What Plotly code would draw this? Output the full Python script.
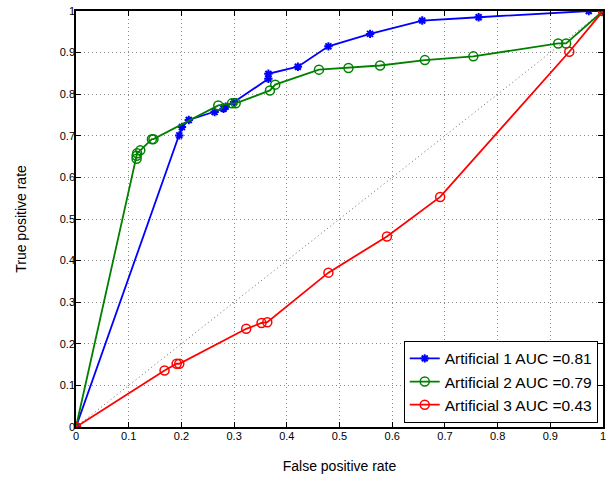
import plotly.graph_objects as go

a1_fpr = [0, 0.196, 0.201, 0.214, 0.263, 0.280, 0.284, 0.300, 0.365, 0.365, 0.421, 0.479, 0.558, 0.657, 0.764, 0.973, 1.0]
a1_tpr = [0, 0.701, 0.721, 0.738, 0.757, 0.765, 0.770, 0.781, 0.837, 0.849, 0.866, 0.915, 0.945, 0.977, 0.985, 1.0, 1.0]

a2_fpr = [0, 0.115, 0.115, 0.116, 0.122, 0.144, 0.147, 0.270, 0.296, 0.303, 0.368, 0.378, 0.461, 0.517, 0.577, 0.662, 0.754, 0.915, 0.930, 1.0]
a2_tpr = [0, 0.645, 0.652, 0.658, 0.665, 0.692, 0.692, 0.773, 0.778, 0.778, 0.809, 0.823, 0.859, 0.863, 0.869, 0.882, 0.891, 0.922, 0.922, 1.0]

a3_fpr = [0, 0.168, 0.191, 0.196, 0.323, 0.352, 0.363, 0.479, 0.590, 0.691, 0.936, 1.0]
a3_tpr = [0, 0.136, 0.152, 0.152, 0.236, 0.250, 0.252, 0.371, 0.458, 0.553, 0.902, 1.0]

names = ["Artificial 1 AUC =0.81", "Artificial 2 AUC =0.79", "Artificial 3 AUC =0.43"]
ticks = [0, 0.1, 0.2, 0.3, 0.4, 0.5, 0.6, 0.7, 0.8, 0.9, 1]
tick_text = ["0", "0.1", "0.2", "0.3", "0.4", "0.5", "0.6", "0.7", "0.8", "0.9", "1"]

FONT = "Liberation Sans, Arial, sans-serif"

fig = go.Figure()
fig.add_trace(go.Scatter(x=[0, 1], y=[0, 1], mode="lines",
                         line=dict(color="#666666", width=1, dash="1px,3px"),
                         showlegend=False, hoverinfo="skip"))
fig.add_trace(go.Scatter(x=a1_fpr, y=a1_tpr, mode="lines+markers", name=names[0],
                         line=dict(color="#0000ff", width=1.8),
                         marker=dict(symbol="asterisk-open", size=7,
                                     line=dict(color="#0000ff", width=2))))
fig.add_trace(go.Scatter(x=a2_fpr, y=a2_tpr, mode="lines+markers", name=names[1],
                         line=dict(color="#008000", width=1.8),
                         marker=dict(symbol="circle-open", size=9,
                                     line=dict(color="#008000", width=1.5))))
fig.add_trace(go.Scatter(x=a3_fpr, y=a3_tpr, mode="lines+markers", name=names[2],
                         line=dict(color="#ff0000", width=1.8),
                         marker=dict(symbol="circle-open", size=9,
                                     line=dict(color="#ff0000", width=1.5))))

axis_common = dict(range=[0, 1], tickvals=ticks, ticktext=tick_text,
                   showline=True, linecolor="black", linewidth=1.5, mirror="ticks",
                   ticks="inside", ticklen=5, tickcolor="black",
                   showgrid=True, gridcolor="#8a8a8a", griddash="1px,3px", gridwidth=1,
                   zeroline=False, automargin=False, ticklabeloverflow="allow",
                   tickfont=dict(size=11, color="black", family=FONT))

fig.update_xaxes(**axis_common, ticklabelstandoff=-2,
                 title=dict(text="False positive rate", standoff=20,
                            font=dict(size=14, color="black", family=FONT)))
fig.update_yaxes(**axis_common, ticklabelstandoff=-3,
                 title=dict(text="True positive rate", standoff=30,
                            font=dict(size=14, color="black", family=FONT)))

fig.update_layout(
    width=615, height=483,
    margin=dict(l=76, r=12, t=11, b=56, autoexpand=False),
    paper_bgcolor="white", plot_bgcolor="white",
    font=dict(family=FONT, color="black"),
    legend=dict(x=0.99, y=0.01, xanchor="right", yanchor="bottom",
                bgcolor="white", bordercolor="black", borderwidth=1,
                font=dict(size=15.5), tracegroupgap=0, itemwidth=30),
)

# remove the default 8px page margin so the figure sits at the window's corner
fig.write_html("out.html", config={"displayModeBar": False},
               post_script="document.body.style.margin='0';")
